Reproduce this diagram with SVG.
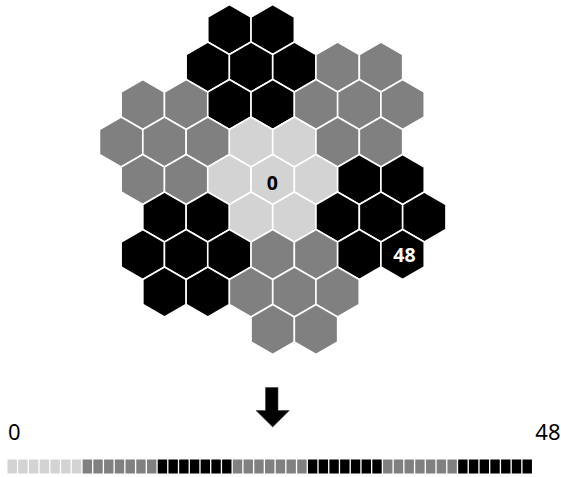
<svg xmlns="http://www.w3.org/2000/svg" xmlns:xlink="http://www.w3.org/1999/xlink" width="561" height="477" viewBox="0 0 561 477">
<style>
.l{fill:#d3d3d3}.g{fill:#808080}.b{fill:#000000}
.h{stroke:#ffffff;stroke-width:1.6}
.hl{font-family:"Noto Sans","Open Sans",sans-serif;font-weight:bold;font-size:19.5px;text-anchor:middle}
.ax{font-family:"Noto Sans","Open Sans",sans-serif;font-size:22px;fill:#000}
</style>
<defs>
<polygon id="hex" points="0,-25 21.65,-12.5 21.65,12.5 0,25 -21.65,12.5 -21.65,-12.5"/>
</defs>
<g id="hexgrid">
<g id="h-A-2"><use href="#hex" class="h b" x="229.4" y="29.5"/></g>
<g id="h-A0"><use href="#hex" class="h b" x="272.7" y="29.5"/></g>
<g id="h-B-3"><use href="#hex" class="h b" x="207.8" y="67"/></g>
<g id="h-B-1"><use href="#hex" class="h b" x="251" y="67"/></g>
<g id="h-B1"><use href="#hex" class="h b" x="294.4" y="67"/></g>
<g id="h-B3"><use href="#hex" class="h g" x="337.6" y="67"/></g>
<g id="h-B5"><use href="#hex" class="h g" x="381" y="67"/></g>
<g id="h-C-6"><use href="#hex" class="h g" x="142.8" y="104.5"/></g>
<g id="h-C-4"><use href="#hex" class="h g" x="186.1" y="104.5"/></g>
<g id="h-C-2"><use href="#hex" class="h b" x="229.4" y="104.5"/></g>
<g id="h-C0"><use href="#hex" class="h b" x="272.7" y="104.5"/></g>
<g id="h-C2"><use href="#hex" class="h g" x="316" y="104.5"/></g>
<g id="h-C4"><use href="#hex" class="h g" x="359.3" y="104.5"/></g>
<g id="h-C6"><use href="#hex" class="h g" x="402.6" y="104.5"/></g>
<g id="h-D-7"><use href="#hex" class="h g" x="121.1" y="142"/></g>
<g id="h-D-5"><use href="#hex" class="h g" x="164.5" y="142"/></g>
<g id="h-D-3"><use href="#hex" class="h g" x="207.8" y="142"/></g>
<g id="h-D-1"><use href="#hex" class="h l" x="251" y="142"/></g>
<g id="h-D1"><use href="#hex" class="h l" x="294.4" y="142"/></g>
<g id="h-D3"><use href="#hex" class="h g" x="337.6" y="142"/></g>
<g id="h-D5"><use href="#hex" class="h g" x="381" y="142"/></g>
<g id="h-E-6"><use href="#hex" class="h g" x="142.8" y="179.5"/></g>
<g id="h-E-4"><use href="#hex" class="h g" x="186.1" y="179.5"/></g>
<g id="h-E-2"><use href="#hex" class="h l" x="229.4" y="179.5"/></g>
<g id="h-E0"><use href="#hex" class="h l" x="272.7" y="179.5"/><text class="hl" x="272.3" y="189.5" fill="#000">0</text></g>
<g id="h-E2"><use href="#hex" class="h l" x="316" y="179.5"/></g>
<g id="h-E4"><use href="#hex" class="h b" x="359.3" y="179.5"/></g>
<g id="h-E6"><use href="#hex" class="h b" x="402.6" y="179.5"/></g>
<g id="h-F-5"><use href="#hex" class="h b" x="164.5" y="217"/></g>
<g id="h-F-3"><use href="#hex" class="h b" x="207.8" y="217"/></g>
<g id="h-F-1"><use href="#hex" class="h l" x="251" y="217"/></g>
<g id="h-F1"><use href="#hex" class="h l" x="294.4" y="217"/></g>
<g id="h-F3"><use href="#hex" class="h b" x="337.6" y="217"/></g>
<g id="h-F5"><use href="#hex" class="h b" x="381" y="217"/></g>
<g id="h-F7"><use href="#hex" class="h b" x="424.3" y="217"/></g>
<g id="h-G-6"><use href="#hex" class="h b" x="142.8" y="254.5"/></g>
<g id="h-G-4"><use href="#hex" class="h b" x="186.1" y="254.5"/></g>
<g id="h-G-2"><use href="#hex" class="h b" x="229.4" y="254.5"/></g>
<g id="h-G0"><use href="#hex" class="h g" x="272.7" y="254.5"/></g>
<g id="h-G2"><use href="#hex" class="h g" x="316" y="254.5"/></g>
<g id="h-G4"><use href="#hex" class="h b" x="359.3" y="254.5"/></g>
<g id="h-G6"><use href="#hex" class="h b" x="402.6" y="254.5"/><text class="hl" x="404.5" y="261.5" fill="#fff">48</text></g>
<g id="h-H-5"><use href="#hex" class="h b" x="164.5" y="292"/></g>
<g id="h-H-3"><use href="#hex" class="h b" x="207.8" y="292"/></g>
<g id="h-H-1"><use href="#hex" class="h g" x="251" y="292"/></g>
<g id="h-H1"><use href="#hex" class="h g" x="294.4" y="292"/></g>
<g id="h-H3"><use href="#hex" class="h g" x="337.6" y="292"/></g>
<g id="h-I0"><use href="#hex" class="h g" x="272.7" y="329.5"/></g>
<g id="h-I2"><use href="#hex" class="h g" x="316" y="329.5"/></g>
</g>
<g id="arrow">
<polygon points="265.5,387.5 278,387.5 278,410.5 289.3,410.5 272.7,427 256,410.5 265.5,410.5" fill="#000" stroke="#444" stroke-width="0.6"/>
</g>
<g id="axis-labels">
<text class="ax" x="8" y="440">0</text>
<text class="ax" x="560.5" y="440" text-anchor="end">48</text>
</g>
<g id="bar">
<rect class="l" x="7.5" y="459.5" width="9.4" height="14"/>
<rect class="l" x="18.23" y="459.5" width="9.4" height="14"/>
<rect class="l" x="28.96" y="459.5" width="9.4" height="14"/>
<rect class="l" x="39.69" y="459.5" width="9.4" height="14"/>
<rect class="l" x="50.42" y="459.5" width="9.4" height="14"/>
<rect class="l" x="61.15" y="459.5" width="9.4" height="14"/>
<rect class="l" x="71.88" y="459.5" width="9.4" height="14"/>
<rect class="g" x="82.61" y="459.5" width="9.4" height="14"/>
<rect class="g" x="93.34" y="459.5" width="9.4" height="14"/>
<rect class="g" x="104.07" y="459.5" width="9.4" height="14"/>
<rect class="g" x="114.8" y="459.5" width="9.4" height="14"/>
<rect class="g" x="125.53" y="459.5" width="9.4" height="14"/>
<rect class="g" x="136.26" y="459.5" width="9.4" height="14"/>
<rect class="g" x="146.99" y="459.5" width="9.4" height="14"/>
<rect class="b" x="157.72" y="459.5" width="9.4" height="14"/>
<rect class="b" x="168.45" y="459.5" width="9.4" height="14"/>
<rect class="b" x="179.18" y="459.5" width="9.4" height="14"/>
<rect class="b" x="189.91" y="459.5" width="9.4" height="14"/>
<rect class="b" x="200.64" y="459.5" width="9.4" height="14"/>
<rect class="b" x="211.37" y="459.5" width="9.4" height="14"/>
<rect class="b" x="222.1" y="459.5" width="9.4" height="14"/>
<rect class="g" x="232.83" y="459.5" width="9.4" height="14"/>
<rect class="g" x="243.56" y="459.5" width="9.4" height="14"/>
<rect class="g" x="254.29" y="459.5" width="9.4" height="14"/>
<rect class="g" x="265.02" y="459.5" width="9.4" height="14"/>
<rect class="g" x="275.75" y="459.5" width="9.4" height="14"/>
<rect class="g" x="286.48" y="459.5" width="9.4" height="14"/>
<rect class="g" x="297.21" y="459.5" width="9.4" height="14"/>
<rect class="b" x="307.94" y="459.5" width="9.4" height="14"/>
<rect class="b" x="318.67" y="459.5" width="9.4" height="14"/>
<rect class="b" x="329.4" y="459.5" width="9.4" height="14"/>
<rect class="b" x="340.13" y="459.5" width="9.4" height="14"/>
<rect class="b" x="350.86" y="459.5" width="9.4" height="14"/>
<rect class="b" x="361.59" y="459.5" width="9.4" height="14"/>
<rect class="b" x="372.32" y="459.5" width="9.4" height="14"/>
<rect class="g" x="383.05" y="459.5" width="9.4" height="14"/>
<rect class="g" x="393.78" y="459.5" width="9.4" height="14"/>
<rect class="g" x="404.51" y="459.5" width="9.4" height="14"/>
<rect class="g" x="415.24" y="459.5" width="9.4" height="14"/>
<rect class="g" x="425.97" y="459.5" width="9.4" height="14"/>
<rect class="g" x="436.7" y="459.5" width="9.4" height="14"/>
<rect class="g" x="447.43" y="459.5" width="9.4" height="14"/>
<rect class="b" x="458.16" y="459.5" width="9.4" height="14"/>
<rect class="b" x="468.89" y="459.5" width="9.4" height="14"/>
<rect class="b" x="479.62" y="459.5" width="9.4" height="14"/>
<rect class="b" x="490.35" y="459.5" width="9.4" height="14"/>
<rect class="b" x="501.08" y="459.5" width="9.4" height="14"/>
<rect class="b" x="511.81" y="459.5" width="9.4" height="14"/>
<rect class="b" x="522.54" y="459.5" width="9.4" height="14"/>
</g>
</svg>
